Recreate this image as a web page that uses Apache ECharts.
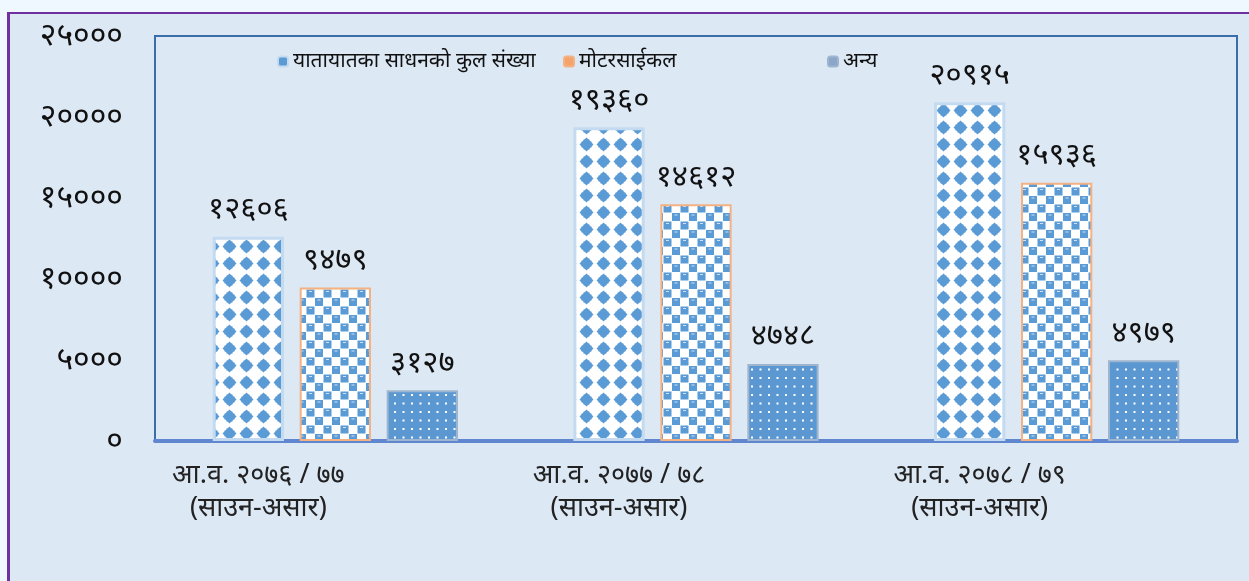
<!DOCTYPE html>
<html><head><meta charset="utf-8">
<script src="https://cdn.jsdelivr.net/npm/echarts@6/dist/echarts.min.js"></script>
<style>
html,body{margin:0;padding:0;background:#f0f8ff;width:1249px;height:581px;overflow:hidden;}
#frame{position:absolute;left:7px;top:12px;width:1260px;height:600px;background:#dde8f5;border-left:3px solid #7030a0;border-top:2px solid #7030a0;}
#c{position:absolute;left:0;top:0;width:1249px;height:581px;}
</style></head>
<body>
<div id="frame"></div>
<div id="c"></div>
<script>
const categories = ['आ.व. २०७६ / ७७\n(साउन-असार)', 'आ.व. २०७७ / ७८\n(साउन-असार)', 'आ.व. २०७८ / ७९\n(साउन-असार)'];
const seriesNames = ['यातायातका साधनको कुल संख्या', 'मोटरसाईकल', 'अन्य'];
const totalVehicles = [12606, 19360, 20915];
const motorcycles = [9479, 14612, 15936];
const others = [3127, 4748, 4979];
const yTicks = [0, 5000, 10000, 15000, 20000, 25000];

const devDigits = '०१२३४५६७८९';
function toDev(n){ return String(n).replace(/[0-9]/g, d => devDigits[+d]); }

function makeDiamond(){
  const c = document.createElement('canvas'); c.width = 17; c.height = 17;
  const g = c.getContext('2d');
  g.fillStyle = '#ffffff'; g.fillRect(0,0,17,17);
  g.fillStyle = '#5b9bd5';
  g.beginPath(); g.moveTo(8.5,1.5); g.lineTo(15.5,8.5); g.lineTo(8.5,15.5); g.lineTo(1.5,8.5); g.closePath(); g.fill();
  g.fillRect(5.5,3.5,6,10); g.fillRect(3.5,5.5,10,6);
  return c;
}
function makeChecker(){
  const c = document.createElement('canvas'); c.width = 17; c.height = 17;
  const g = c.getContext('2d');
  g.fillStyle = '#ffffff'; g.fillRect(0,0,17,17);
  g.fillStyle = '#5b9bd5';
  g.fillRect(0.5,0.5,8,8); g.fillRect(9,9,8,8);
  g.fillStyle = '#cfe0f3';
  g.fillRect(3,2,3,1); g.fillRect(11.5,10.5,3,1);
  return c;
}
function makeDots(){
  const c = document.createElement('canvas'); c.width = 17; c.height = 17;
  const g = c.getContext('2d');
  g.fillStyle = '#5b98d2'; g.fillRect(0,0,17,17);
  g.fillStyle = '#ffffff';
  [[4,4],[12.5,4],[4,12.5],[12.5,12.5]].forEach(p => g.fillRect(p[0]-1,p[1]-1,2,2));
  return c;
}

const fontFam = '"Noto Sans", sans-serif';
const chart = echarts.init(document.getElementById('c'));
const labelCfg = {show:true, position:'top', distance:12, fontSize:31, color:'#111', fontFamily:fontFam, formatter: p => toDev(p.value)};
const legendColors = ['#5b9bd5', '#f4a46b', '#8aa6c8'];
const legendLefts = [272, 558, 822];
chart.setOption({
  animation:false,
  grid:{left:155, right:12, top:36, bottom:140, show:true, borderColor:'#3a6ea8', borderWidth:2, backgroundColor:'transparent'},
  legend: seriesNames.map((n, i) => ({
    left:legendLefts[i], top:46, itemWidth:10, itemHeight:10,
    textStyle:{fontSize:21, color:'#111', fontFamily:fontFam},
    data:[{name:n, itemStyle:{color:legendColors[i]}}]
  })),
  xAxis:{type:'category', data:categories,
    axisLine:{lineStyle:{color:'#5f86cf', width:4}}, axisTick:{show:false},
    axisLabel:{margin:18, lineHeight:33, fontSize:27, color:'#222', fontFamily:fontFam, align:'center', padding:[0,154,0,0]}},
  yAxis:{type:'value', min:0, max:25000, interval:5000,
    axisLine:{show:false}, axisTick:{show:false}, splitLine:{show:false},
    axisLabel:{margin:32, fontSize:32, color:'#111', fontFamily:fontFam, formatter: v => toDev(v)}},
  series:[
    {name:seriesNames[0], type:'bar', data:totalVehicles, barGap:'22%', barCategoryGap:'32%',
      itemStyle:{color:{image:makeDiamond(), repeat:'repeat'}, borderColor:'#c3daf0', borderWidth:3}, label:labelCfg},
    {name:seriesNames[1], type:'bar', data:motorcycles,
      itemStyle:{color:{image:makeChecker(), repeat:'repeat'}, borderColor:'#f4b183', borderWidth:2}, label:labelCfg},
    {name:seriesNames[2], type:'bar', data:others,
      itemStyle:{color:{image:makeDots(), repeat:'repeat'}, borderColor:'#9db5cf', borderWidth:2}, label:labelCfg}
  ]
});
</script>
</body></html>
